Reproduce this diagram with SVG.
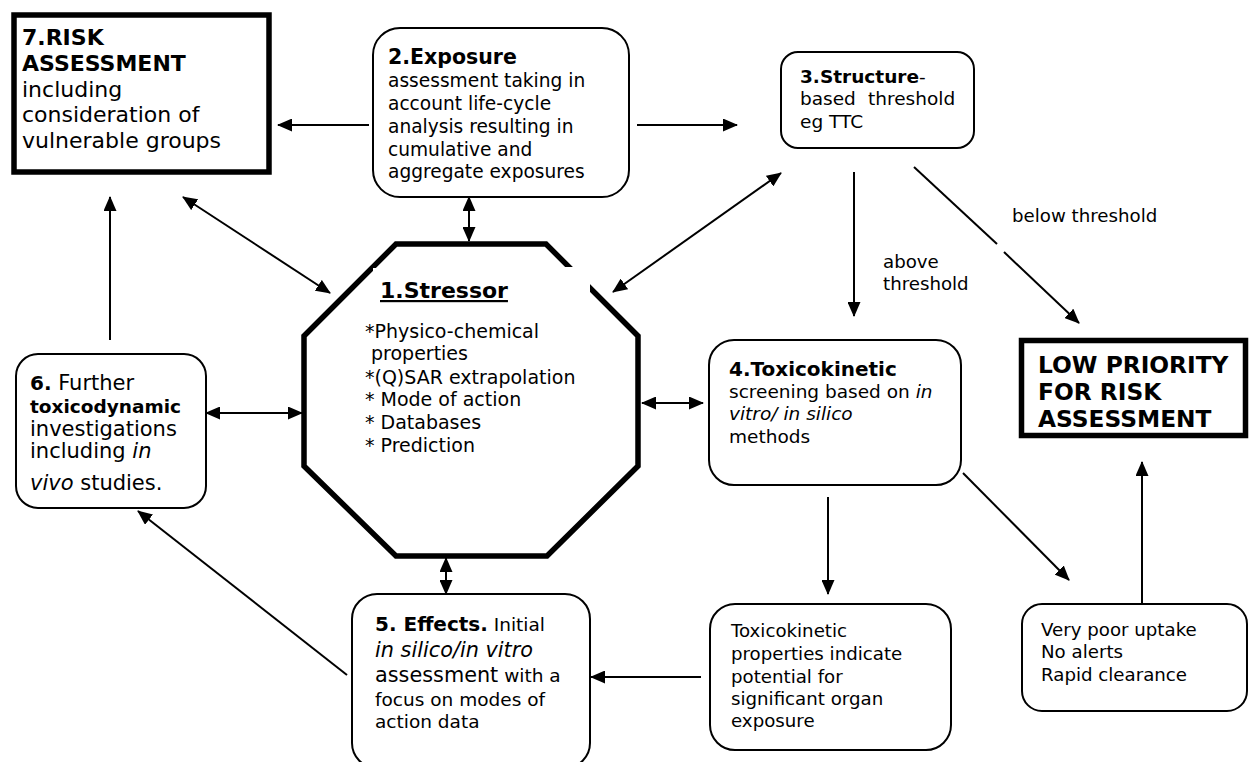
<svg xmlns="http://www.w3.org/2000/svg" width="1252" height="762" viewBox="0 0 1252 762">
<style>
text{font-family:"DejaVu Sans",Verdana,sans-serif;fill:#000}
.b{font-weight:bold}
.i{font-style:italic}
.box{fill:#fff;stroke:#000;stroke-width:2}
.thick{fill:#fff;stroke:#000;stroke-width:5.5}
.c{stroke:#000;stroke-width:2;fill:none}
.a{marker-end:url(#ah)}
.d{marker-start:url(#ah);marker-end:url(#ah)}
</style>
<defs>
<marker id="ah" markerWidth="15" markerHeight="13" refX="14" refY="6.5" orient="auto-start-reverse" markerUnits="userSpaceOnUse"><path d="M0,0 L15,6.5 L0,13 z" fill="#000"/></marker>
</defs>
<rect width="1252" height="762" fill="#fff"/>

<g id="connectors">
<line class="c a" x1="369" y1="125" x2="278" y2="125"/>
<line class="c a" x1="637" y1="125" x2="737" y2="125"/>
<line class="c a" x1="110" y1="340" x2="110" y2="197"/>
<line class="c d" x1="183" y1="197" x2="330" y2="293"/>
<line class="c d" x1="469" y1="197" x2="469" y2="241"/>
<line class="c d" x1="613" y1="292" x2="781" y2="173"/>
<line class="c d" x1="206" y1="413" x2="302" y2="413"/>
<line class="c d" x1="642" y1="403" x2="703" y2="403"/>
<line class="c d" x1="446" y1="558" x2="446" y2="594"/>
<line class="c a" x1="854" y1="172" x2="854" y2="316"/>
<line class="c" x1="914" y1="167" x2="997" y2="244"/>
<line class="c a" x1="1004" y1="252" x2="1079" y2="323"/>
<line class="c a" x1="828" y1="497" x2="828" y2="594"/>
<line class="c a" x1="963" y1="473" x2="1069" y2="580"/>
<line class="c a" x1="1142" y1="604" x2="1142" y2="462"/>
<line class="c a" x1="701" y1="677" x2="591" y2="677"/>
<line class="c a" x1="347" y1="675" x2="138" y2="511"/>
</g>

<g id="labels">
<text x="1012" y="222" font-size="18.2">below threshold</text>
<text x="883" y="268" font-size="18.2">above</text>
<text x="883" y="290" font-size="18.2">threshold</text>
</g>

<g id="node7">
<rect class="thick" x="14" y="15" width="255" height="157"/>
<text font-size="22"><tspan class="b" x="22" y="45">7.RISK</tspan><tspan class="b" x="22" y="71">ASSESSMENT</tspan><tspan x="22" y="97">including</tspan><tspan x="22" y="122">consideration of</tspan><tspan x="22" y="148">vulnerable groups</tspan></text>
</g>

<g id="node2">
<rect class="box" x="373" y="28" width="256" height="169" rx="27"/>
<text font-size="18.6"><tspan class="b" x="388" y="64" font-size="20.5">2.Exposure</tspan><tspan x="388" y="87">assessment taking in</tspan><tspan x="388" y="110">account life-cycle</tspan><tspan x="388" y="133">analysis resulting in</tspan><tspan x="388" y="156">cumulative and</tspan><tspan x="388" y="178">aggregate exposures</tspan></text>
</g>

<g id="node3">
<rect class="box" x="781" y="52" width="193" height="96" rx="17"/>
<text font-size="18.5"><tspan class="b" x="800" y="83">3.Structure</tspan><tspan>-</tspan><tspan x="800" y="105">based</tspan><tspan x="868" y="105">threshold</tspan><tspan x="800" y="128">eg TTC</tspan></text>
</g>

<g id="node1">
<polygon class="thick" points="396,244 546,244 638,336 638,466 547,556 396,556 304,466 304,336"/>
<rect x="515" y="267" width="75" height="60" fill="#fff"/>
<rect x="373" y="268" width="25" height="30" fill="#fff"/>
<text class="b" x="380" y="298" font-size="22" text-decoration="underline">1.Stressor</text>
<text font-size="19"><tspan x="365" y="338">*Physico-chemical</tspan><tspan x="371" y="360">properties</tspan><tspan x="365" y="384">*(Q)SAR extrapolation</tspan><tspan x="365" y="406">* Mode of action</tspan><tspan x="365" y="429">* Databases</tspan><tspan x="365" y="452">* Prediction</tspan></text>
</g>

<g id="node6">
<rect class="box" x="16" y="354" width="190" height="154" rx="22"/>
<text font-size="21"><tspan x="30" y="390"><tspan class="b" font-size="20">6.</tspan> Further</tspan><tspan class="b" x="30" y="413" font-size="18.5">toxicodynamic</tspan><tspan x="30" y="436">investigations</tspan><tspan x="30" y="458">including <tspan class="i">in</tspan></tspan><tspan x="30" y="490"><tspan class="i">vivo</tspan> studies.</tspan></text>
</g>

<g id="node4">
<rect class="box" x="709" y="340" width="252" height="145" rx="25"/>
<text font-size="18.5"><tspan class="b" x="729" y="376" font-size="20">4.Toxicokinetic</tspan><tspan x="729" y="398">screening based on <tspan class="i">in</tspan></tspan><tspan class="i" x="729" y="420">vitro/ in silico</tspan><tspan x="729" y="443">methods</tspan></text>
</g>

<g id="nodeLow">
<rect class="thick" x="1021.5" y="340.5" width="224" height="95"/>
<text class="b" font-size="23.3"><tspan x="1038" y="373">LOW PRIORITY</tspan><tspan x="1038" y="400">FOR RISK</tspan><tspan x="1038" y="427">ASSESSMENT</tspan></text>
</g>

<g id="node5">
<rect class="box" x="352" y="594" width="238" height="174" rx="25"/>
<text font-size="18.5"><tspan x="375" y="631"><tspan class="b" font-size="20">5. Effects.</tspan> Initial</tspan><tspan class="i" x="375" y="657" font-size="20.8">in silico/in vitro</tspan><tspan x="375" y="682"><tspan font-size="20.8">assessment</tspan> with a</tspan><tspan x="375" y="706">focus on modes of</tspan><tspan x="375" y="728">action data</tspan></text>
</g>

<g id="nodeTKprops">
<rect class="box" x="710" y="604" width="241" height="146" rx="25"/>
<text font-size="18.2"><tspan x="731" y="637">Toxicokinetic</tspan><tspan x="731" y="660">properties indicate</tspan><tspan x="731" y="683">potential for</tspan><tspan x="731" y="705">significant organ</tspan><tspan x="731" y="727">exposure</tspan></text>
</g>

<g id="nodePoor">
<rect class="box" x="1022" y="604" width="225" height="107" rx="20"/>
<text font-size="18.2"><tspan x="1041" y="636">Very poor uptake</tspan><tspan x="1041" y="658">No alerts</tspan><tspan x="1041" y="681">Rapid clearance</tspan></text>
</g>
</svg>
